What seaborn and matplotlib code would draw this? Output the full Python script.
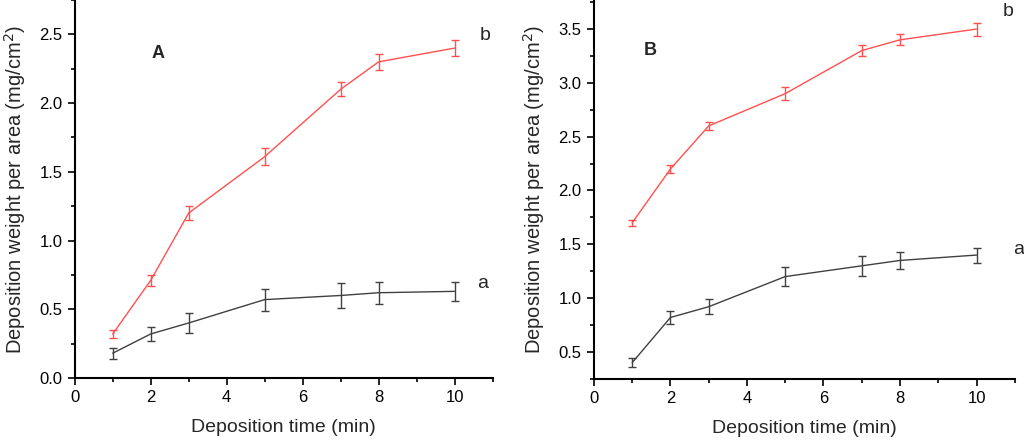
import numpy as np
import pandas as pd
import seaborn as sns
from matplotlib import pyplot as plt
from matplotlib.ticker import MultipleLocator

sns.set_theme(style="ticks")
plt.rcParams['font.family'] = ['Liberation Sans', 'DejaVu Sans']

# vrijeme taloženja (min)
time = [1, 2, 3, 5, 7, 8, 10]

# Panel A
a_A = [0.18, 0.32, 0.40, 0.57, 0.60, 0.62, 0.63]
a_A_err = [0.04, 0.05, 0.07, 0.08, 0.09, 0.08, 0.07]
b_A = [0.32, 0.71, 1.20, 1.61, 2.10, 2.30, 2.40]
b_A_err = [0.03, 0.04, 0.05, 0.06, 0.05, 0.06, 0.06]

# Panel B
a_B = [0.40, 0.82, 0.92, 1.20, 1.30, 1.35, 1.40]
a_B_err = [0.04, 0.06, 0.07, 0.09, 0.09, 0.08, 0.07]
b_B = [1.70, 2.20, 2.60, 2.90, 3.30, 3.40, 3.50]
b_B_err = [0.03, 0.04, 0.04, 0.06, 0.05, 0.05, 0.06]

red = '#ff5050'
dark = '#404040'

fig = plt.figure(figsize=(10.24, 4.41), dpi=100)
axA = fig.add_axes([0.073, 0.143, 0.408, 0.857])
axB = fig.add_axes([0.580, 0.141, 0.411, 0.859])


def panel(ax, a, a_err, b, b_err, ylim, ymajor):
    df = pd.DataFrame({'time': time, 'a': a, 'b': b})
    sns.lineplot(data=df, x='time', y='b', color=red, lw=1, ax=ax)
    sns.lineplot(data=df, x='time', y='a', color=dark, lw=1, ax=ax)
    ax.errorbar(time, b, yerr=b_err, fmt='none', ecolor=red, elinewidth=1,
                capsize=3, capthick=1)
    ax.errorbar(time, a, yerr=a_err, fmt='none', ecolor=dark, elinewidth=1,
                capsize=3, capthick=1)
    ax.set_xlim(0, 11)
    ax.set_ylim(*ylim)
    ax.xaxis.set_major_locator(MultipleLocator(2))
    ax.xaxis.set_minor_locator(MultipleLocator(1))
    ax.yaxis.set_major_locator(MultipleLocator(ymajor))
    ax.yaxis.set_minor_locator(MultipleLocator(ymajor / 2))
    ax.yaxis.set_major_formatter(plt.FormatStrFormatter('%.1f'))
    ax.tick_params(which='major', direction='out', length=5, width=1.2,
                   labelsize=12, colors='black', pad=4)
    ax.tick_params(which='minor', direction='out', length=3, width=1.2,
                   colors='black')
    for s in ['top', 'right']:
        ax.spines[s].set_visible(False)
    for s in ['left', 'bottom']:
        ax.spines[s].set_linewidth(1.5)
        ax.spines[s].set_color('black')
    ax.set_xlabel('Deposition time (min)', fontsize=14, labelpad=10)
    ax.set_ylabel('Deposition weight per area (mg/cm$^2$)', fontsize=14.5,
                  labelpad=8)


panel(axA, a_A, a_A_err, b_A, b_A_err, (0, 2.75), 0.5)
axA.text(2.2, 2.36, 'A', fontsize=13, fontweight='bold', ha='center', va='center')
axA.text(10.8, 2.49, 'b', fontsize=14, ha='center', va='center')
axA.text(10.75, 0.69, 'a', fontsize=14, ha='center', va='center')

panel(axB, a_B, a_B_err, b_B, b_B_err, (0.25, 3.77), 0.5)
axB.text(1.47, 3.30, 'B', fontsize=13, fontweight='bold', ha='center', va='center')
axB.text(10.83, 3.66, 'b', fontsize=14, ha='center', va='center')
axB.text(11.09, 1.45, 'a', fontsize=14, ha='center', va='center', clip_on=False)

fig.savefig('out.png', dpi=100)
